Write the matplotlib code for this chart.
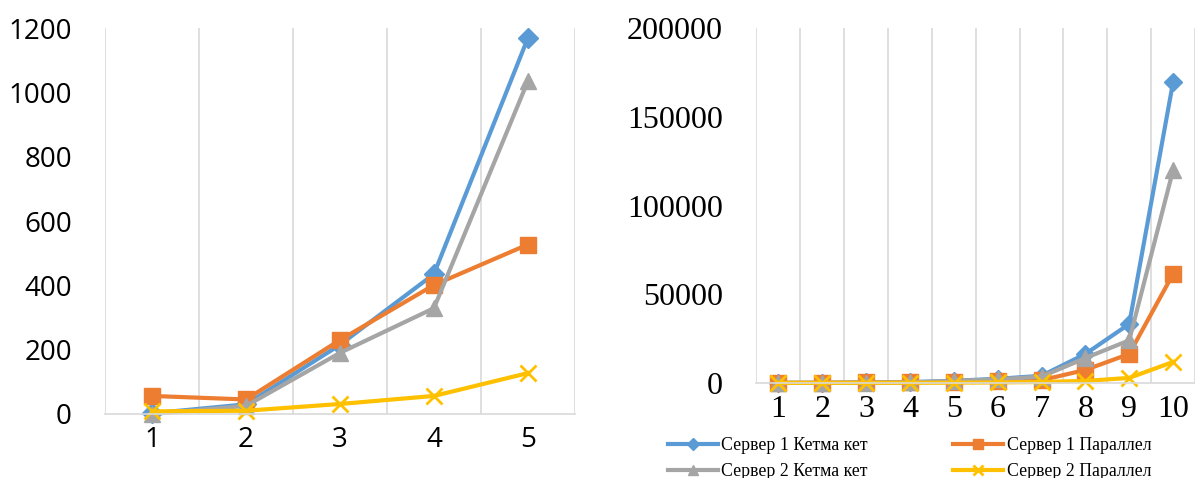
import numpy as np
import matplotlib.pyplot as plt

# data
x_left = [1, 2, 3, 4, 5]
s1_seq_left = [2, 30, 215, 435, 1169]
s1_par_left = [56, 45, 230, 401, 527]
s2_seq_left = [0, 25, 190, 329, 1035]
s2_par_left = [8, 10, 31, 56, 127]

x_right = [1, 2, 3, 4, 5, 6, 7, 8, 9, 10]
s1_seq_right = [2, 30, 215, 435, 1169, 2300, 4000, 16300, 33200, 169600]
s1_par_right = [56, 45, 230, 401, 527, 1000, 1500, 7300, 16300, 61400]
s2_seq_right = [0, 25, 190, 329, 1035, 2000, 3500, 14000, 24000, 120000]
s2_par_right = [8, 10, 31, 56, 127, 250, 500, 1100, 2800, 11800]

labels = ['Сервер 1 Кетма кет', 'Сервер 1 Параллел', 'Сервер 2 Кетма кет', 'Сервер 2 Параллел']
colors = ['#5B9BD5', '#ED7D31', '#A5A5A5', '#FFC000']
markers = ['D', 's', '^', 'x']
msizes = [10, 12, 12, 12]

fig = plt.figure(figsize=(11.95, 4.78), dpi=100)
ax1 = fig.add_axes([0.088, 0.134, 0.393, 0.807])
ax2 = fig.add_axes([0.633, 0.199, 0.367, 0.742])


def style(ax, n, font, size, ypad):
    for s in ['left', 'right', 'top']:
        ax.spines[s].set_visible(False)
    ax.spines['bottom'].set_color('#d9d9d9')
    ax.spines['bottom'].set_linewidth(1.2)
    ax.set_xlim(0.5, n + 0.5)
    ax.set_xticks(range(1, n + 1))
    ax.set_xticks(np.arange(0.5, n + 0.6, 1), minor=True)
    ax.grid(True, which='minor', axis='x', color='#d9d9d9', linewidth=1.2)
    ax.tick_params(which='both', length=0)
    ax.tick_params(axis='y', pad=ypad)
    ax.tick_params(axis='x', pad=9)
    for t in ax.get_xticklabels() + ax.get_yticklabels():
        t.set_fontfamily(font)
        t.set_fontsize(size)


series_left = [s1_seq_left, s1_par_left, s2_seq_left, s2_par_left]
series_right = [s1_seq_right, s1_par_right, s2_seq_right, s2_par_right]

for y, c, m, ms in zip(series_left, colors, markers, msizes):
    ax1.plot(x_left, y, color=c, lw=3, marker=m, ms=ms, mew=2 if m == 'x' else 1, clip_on=False)
ax1.set_ylim(0, 1200)
ax1.set_yticks(range(0, 1201, 200))
style(ax1, 5, 'Open Sans', 20, 24)

handles = []
for y, c, m, ms, lab in zip(series_right, colors, markers, msizes, labels):
    h, = ax2.plot(x_right, y, color=c, lw=3, marker=m, ms=ms - 1, mew=2 if m == 'x' else 1,
                  label=lab, clip_on=False)
    handles.append(h)
ax2.set_ylim(0, 200000)
ax2.set_yticks(range(0, 200001, 50000))
style(ax2, 10, 'Liberation Serif', 23, 24)

# legend rows: series 1 on top row, series 2 below
order = [0, 2, 1, 3]
fig.legend([handles[i] for i in order], [labels[i] for i in order],
           loc='upper left', bbox_to_anchor=(0.559, 0.086), ncol=2,
           frameon=False, prop={'family': 'Liberation Serif', 'size': 12.8},
           borderpad=0, borderaxespad=0,
           handlelength=2.8, columnspacing=4.8, handletextpad=0.2, labelspacing=0.5,
           markerscale=0.7)

fig.savefig('out.png', dpi=100)
